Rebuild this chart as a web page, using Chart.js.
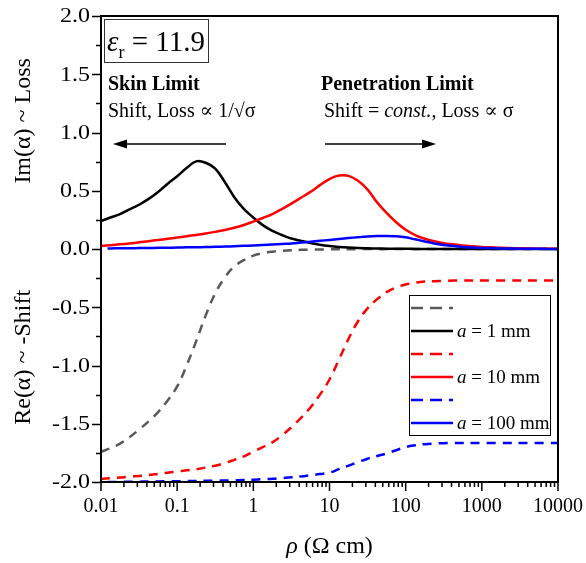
<!DOCTYPE html>
<html>
<head>
<meta charset="utf-8">
<script src="https://cdn.jsdelivr.net/npm/chart.js@4.4.0/dist/chart.umd.min.js"></script>
<style>
  html, body { margin: 0; padding: 0; background: #fff; }
</style>
</head>
<body>
<canvas id="chart" width="586" height="563"></canvas>
<script>
// ── Data (eighth-decade steps) ──
const rho = [0.01, 0.0133, 0.0178, 0.0237, 0.0316, 0.0422, 0.0562, 0.075,
             0.1, 0.133, 0.178, 0.237, 0.316, 0.422, 0.562, 0.75,
             1, 1.33, 1.78, 2.37, 3.16, 4.22, 5.62, 7.5,
             10, 13.3, 17.8, 23.7, 31.6, 42.2, 56.2, 75,
             100, 133, 178, 237, 316, 422, 562, 750,
             1000, 1330, 1780, 2370, 3160, 4220, 5620, 7500, 10000];
const rho100 = [0.0122].concat(rho.slice(1));

// a = 1 mm
const re1 = [-1.74, -1.71, -1.67, -1.615, -1.55, -1.48, -1.40, -1.30,
             -1.18, -1.00, -0.79, -0.57, -0.38, -0.245, -0.15, -0.095,
             -0.057, -0.036, -0.023, -0.015, -0.01, -0.007, -0.005, -0.004,
             -0.003, -0.002, -0.002, -0.001, -0.001, -0.001, -0.001, 0,
             0, 0, 0, 0, 0, 0, 0, 0, 0, 0, 0, 0, 0, 0, 0, 0, 0];
const im1 = [0.24, 0.27, 0.30, 0.34, 0.38, 0.43, 0.49, 0.56,
             0.625, 0.695, 0.752, 0.74, 0.69, 0.575, 0.445, 0.345,
             0.27, 0.205, 0.155, 0.12, 0.09, 0.07, 0.052, 0.037,
             0.026, 0.018, 0.012, 0.008, 0.006, 0.004, 0.003, 0.002,
             0.0015, 0.001, 0.001, 0.0008, 0.0006, 0.0005, 0.0004, 0.0003,
             0.0002, 0.0002, 0.0001, 0.0001, 0.0001, 0, 0, 0, 0];
// a = 10 mm
const re10 = [-1.974, -1.968, -1.962, -1.955, -1.948, -1.94, -1.93, -1.92,
              -1.91, -1.90, -1.89, -1.876, -1.86, -1.838, -1.81, -1.78,
              -1.74, -1.70, -1.66, -1.60, -1.53, -1.45, -1.36, -1.25,
              -1.12, -0.95, -0.77, -0.62, -0.51, -0.43, -0.37, -0.33,
              -0.305, -0.29, -0.28, -0.276, -0.273, -0.271, -0.27, -0.27,
              -0.27, -0.27, -0.27, -0.27, -0.27, -0.27, -0.27, -0.27, -0.27];
const im10 = [0.026, 0.033, 0.04, 0.048, 0.057, 0.067, 0.077, 0.087,
              0.098, 0.109, 0.121, 0.133, 0.147, 0.163, 0.182, 0.206,
              0.235, 0.266, 0.30, 0.343, 0.39, 0.44, 0.49, 0.548,
              0.60, 0.63, 0.628, 0.585, 0.51, 0.40, 0.31, 0.23,
              0.165, 0.12, 0.088, 0.066, 0.05, 0.04, 0.03, 0.024,
              0.018, 0.014, 0.01, 0.008, 0.006, 0.004, 0.003, 0.002, 0.002];
// a = 100 mm
const re100 = [-2.0, -2.0, -1.999, -1.998, -1.997, -1.996, -1.995, -1.994,
               -1.993, -1.992, -1.991, -1.99, -1.989, -1.987, -1.985, -1.983,
               -1.98, -1.976, -1.972, -1.966, -1.96, -1.952, -1.942, -1.932,
               -1.92, -1.89, -1.86, -1.83, -1.80, -1.777, -1.755, -1.727,
               -1.70, -1.685, -1.675, -1.67, -1.667, -1.665, -1.665, -1.665,
               -1.665, -1.665, -1.665, -1.665, -1.665, -1.665, -1.665, -1.665, -1.665];
const im100 = [0.004, 0.005, 0.006, 0.007, 0.008, 0.009, 0.01, 0.011,
               0.012, 0.014, 0.015, 0.017, 0.019, 0.021, 0.024, 0.027,
               0.03, 0.034, 0.038, 0.043, 0.048, 0.055, 0.062, 0.07,
               0.078, 0.086, 0.094, 0.101, 0.107, 0.111, 0.112, 0.109,
               0.10, 0.083, 0.065, 0.048, 0.035, 0.025, 0.018, 0.013,
               0.009, 0.007, 0.005, 0.004, 0.003, 0.002, 0.002, 0.001, 0.001];

const xTicks = [0.01, 0.1, 1, 10, 100, 1000, 10000];
const xTickLabels = ['0.01', '0.1', '1', '10', '100', '1000', '10000'];
const yTicks = [2.0, 1.5, 1.0, 0.5, 0.0, -0.5, -1.0, -1.5, -2.0];
const legendSizes = ['1 mm', '10 mm', '100 mm'];

const SERIF = '"Liberation Serif", "DejaVu Serif", serif';
const GRAY = '#595959', RED = '#ff0000', BLUE = '#0000ff', BLACK = '#000000';
const DASH = [9, 7];

const series = (xs, ys, color, dash, order) => ({
    data: xs.map((x, i) => ({ x: x, y: ys[i] })),
    borderColor: color,
    borderWidth: 2.5,
    borderDash: dash,
    pointRadius: 0,
    fill: false,
    tension: 0.4,
    order: order
});

// ── helpers for drawing mixed-style text ──
function richText(ctx, x, y, parts, align) {
    let w = 0;
    parts.forEach(p => { ctx.font = p.font; w += ctx.measureText(p.t).width; });
    let cx = align === 'center' ? x - w / 2 : x;
    ctx.textAlign = 'left';
    parts.forEach(p => {
        ctx.font = p.font;
        ctx.fillText(p.t, cx, y + (p.dy || 0));
        cx += ctx.measureText(p.t).width;
    });
}

function arrow(ctx, x1, y, x2) {
    const dir = Math.sign(x2 - x1);
    ctx.beginPath();
    ctx.moveTo(x1, y);
    ctx.lineTo(x2 - dir * 8, y);
    ctx.lineWidth = 1.5;
    ctx.stroke();
    ctx.beginPath();
    ctx.moveTo(x2, y);
    ctx.lineTo(x2 - dir * 14, y - 4.5);
    ctx.lineTo(x2 - dir * 14, y + 4.5);
    ctx.closePath();
    ctx.fill();
}

// ── Frame, ticks, labels, annotations, legend ──
const decor = {
    id: 'decor',
    afterDraw(chart) {
        const { ctx, chartArea: a, scales: { x, y } } = chart;
        ctx.save();
        ctx.strokeStyle = BLACK;
        ctx.fillStyle = BLACK;

        // tick marks
        ctx.lineWidth = 1.5;
        ctx.beginPath();
        for (let v = -2; v <= 2.0001; v += 0.25) {
            const py = Math.round(y.getPixelForValue(v)) + 0.5;
            const len = Math.abs(v * 2 - Math.round(v * 2)) < 1e-6 ? 9 : 5;
            ctx.moveTo(a.left, py);
            ctx.lineTo(a.left - len, py);
        }
        xTicks.forEach((d, i) => {
            const px = x.getPixelForValue(d);
            ctx.moveTo(px, a.bottom);
            ctx.lineTo(px, a.bottom + 9);
            if (i < xTicks.length - 1) {
                for (let m = 2; m <= 9; m++) {
                    const pm = x.getPixelForValue(d * m);
                    ctx.moveTo(pm, a.bottom);
                    ctx.lineTo(pm, a.bottom + 5);
                }
            }
        });
        ctx.stroke();

        // frame
        ctx.lineWidth = 2;
        ctx.strokeRect(a.left, a.top, a.right - a.left, a.bottom - a.top);

        // tick labels
        ctx.font = '20px ' + SERIF;
        ctx.textBaseline = 'middle';
        ctx.textAlign = 'right';
        yTicks.forEach(v => {
            ctx.save();
            ctx.translate(a.left - 11, y.getPixelForValue(v) + 1);
            ctx.scale(1.2, 1);
            ctx.fillText(v.toFixed(1), 0, 0);
            ctx.restore();
        });
        ctx.textAlign = 'center';
        xTicks.forEach((v, i) => ctx.fillText(xTickLabels[i], x.getPixelForValue(v), a.bottom + 25));

        // axis titles
        ctx.textBaseline = 'alphabetic';
        const tf = '24px ' + SERIF;
        ctx.save();
        ctx.translate(30, y.getPixelForValue(1.1));
        ctx.rotate(-Math.PI / 2);
        ctx.font = tf; ctx.textAlign = 'center';
        ctx.fillText('Im(\u03b1) ~ Loss', 0, 0);
        ctx.restore();
        ctx.save();
        ctx.translate(30, y.getPixelForValue(-0.93));
        ctx.rotate(-Math.PI / 2);
        ctx.font = tf; ctx.textAlign = 'center';
        ctx.fillText('Re(\u03b1) ~ -Shift', 0, 0);
        ctx.restore();
        richText(ctx, (a.left + a.right) / 2, 553, [
            { t: '\u03c1', font: 'italic 24px ' + SERIF },
            { t: ' (\u03a9 cm)', font: '24px ' + SERIF }
        ], 'center');

        // epsilon box
        ctx.lineWidth = 1;
        ctx.strokeStyle = '#333';
        ctx.strokeRect(a.left + 3.5, a.top + 3.5, 104, 43);
        ctx.fillStyle = BLACK;
        richText(ctx, a.left + 6, a.top + 35, [
            { t: '\u03b5', font: 'italic 29px ' + SERIF },
            { t: 'r', font: '18px ' + SERIF, dy: 7 },
            { t: ' = 11.9', font: '29px ' + SERIF }
        ]);

        // regime annotations
        const bold = 'bold 20px ' + SERIF, reg = '20px ' + SERIF, ita = 'italic 20px ' + SERIF;
        richText(ctx, a.left + 7, a.top + 74, [{ t: 'Skin Limit', font: bold }]);
        richText(ctx, a.left + 7, a.top + 101, [{ t: 'Shift, Loss \u221d 1/\u221a\u03c3', font: reg }]);
        richText(ctx, a.left + 220, a.top + 74, [{ t: 'Penetration Limit', font: bold }]);
        richText(ctx, a.left + 223, a.top + 101, [
            { t: 'Shift = ', font: reg },
            { t: 'const.', font: ita },
            { t: ', Loss \u221d \u03c3', font: reg }
        ]);
        ctx.strokeStyle = BLACK;
        arrow(ctx, a.left + 125, a.top + 128, a.left + 12);
        arrow(ctx, a.left + 224, a.top + 128, a.left + 335);

        // legend
        const lx = a.left + 308, ly = a.top + 279, lw = 141, lh = 140;
        ctx.fillStyle = '#fff';
        ctx.fillRect(lx, ly, lw, lh);
        ctx.lineWidth = 1;
        ctx.strokeStyle = BLACK;
        ctx.strokeRect(lx + 0.5, ly + 0.5, lw, lh);
        const rows = [[GRAY, DASH], [BLACK, []], [RED, DASH], [RED, []], [BLUE, DASH], [BLUE, []]];
        rows.forEach((r, i) => {
            const ry = ly + 13 + i * 23;
            ctx.strokeStyle = r[0];
            ctx.lineWidth = 2.5;
            ctx.setLineDash(r[1].length ? [12, 7] : []);
            ctx.beginPath();
            ctx.moveTo(lx + 2, ry);
            ctx.lineTo(lx + 44, ry);
            ctx.stroke();
            ctx.setLineDash([]);
            if (i % 2 === 1) {
                ctx.fillStyle = BLACK;
                ctx.textBaseline = 'middle';
                richText(ctx, lx + 48, ry + 1, [
                    { t: 'a', font: 'italic 19px ' + SERIF },
                    { t: ' = ' + legendSizes[(i - 1) / 2], font: '19px ' + SERIF }
                ]);
            }
        });
        ctx.restore();
    }
};

new Chart(document.getElementById('chart'), {
    type: 'line',
    data: {
        datasets: [
            series(rho, re1, GRAY, DASH, 6),
            series(rho, im1, BLACK, [], 5),
            series(rho, re10, RED, DASH, 4),
            series(rho, im10, RED, [], 3),
            series(rho100, re100, BLUE, DASH, 2),
            series(rho100, im100, BLUE, [], 1)
        ]
    },
    options: {
        responsive: false,
        animation: false,
        layout: { padding: { left: 0, top: 16, right: 28, bottom: 0 } },
        plugins: { legend: { display: false }, tooltip: { enabled: false } },
        scales: {
            x: {
                type: 'logarithmic',
                min: 0.01,
                max: 10000,
                grid: { display: false, drawTicks: false },
                border: { display: false },
                ticks: { display: false },
                afterFit: s => { s.height = 81; }
            },
            y: {
                type: 'linear',
                min: -2,
                max: 2,
                grid: { display: false, drawTicks: false },
                border: { display: false },
                ticks: { display: false },
                afterFit: s => { s.width = 101; }
            }
        }
    },
    plugins: [decor]
});
</script>
</body>
</html>
